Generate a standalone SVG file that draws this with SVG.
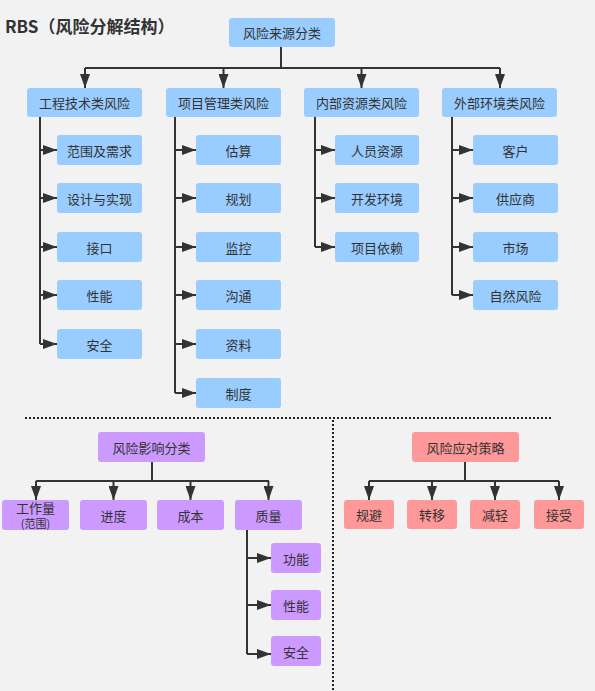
<svg xmlns="http://www.w3.org/2000/svg" width="595" height="691" viewBox="0 0 595 691">
<defs>
<style>
text{font-family:"Noto Sans CJK SC","Noto Sans",sans-serif;font-size:13px;fill:#333;text-anchor:middle;dominant-baseline:central}
.title{font-size:17px;font-weight:bold;text-anchor:start;dominant-baseline:auto}
.b{fill:#99CCFF}
.p{fill:#CC99FF}
.r{fill:#FF9999}
.ln{fill:none;stroke:#333;stroke-width:2}
.arr{fill:none;stroke:#333;stroke-width:2;marker-end:url(#ah)}
.dot{fill:none;stroke:#222;stroke-width:2;stroke-dasharray:2 2}
</style>
<marker id="ah" markerUnits="userSpaceOnUse" markerWidth="14" markerHeight="10" refX="14" refY="5" orient="auto">
<path d="M0,0 L14,5 L0,10 z" fill="#333"/>
</marker>
</defs>
<rect width="595" height="691" fill="#F2F2F3"/>
<text class="title" x="5" y="33">RBS（风险分解结构）</text>

<g id="connectors">
<path class="ln" d="M281,47 V68 M85,68 H500"/>
<path class="arr" d="M85,68 V88"/>
<path class="arr" d="M223.5,68 V88"/>
<path class="arr" d="M361.5,68 V88"/>
<path class="arr" d="M500,68 V88"/>
<path class="ln" d="M40,117 V344"/>
<path class="arr" d="M40,150 H57"/>
<path class="arr" d="M40,198 H57"/>
<path class="arr" d="M40,247 H57"/>
<path class="arr" d="M40,295 H57"/>
<path class="arr" d="M40,344 H57"/>
<path class="ln" d="M175,117 V393"/>
<path class="arr" d="M175,150 H196"/>
<path class="arr" d="M175,198 H196"/>
<path class="arr" d="M175,247 H196"/>
<path class="arr" d="M175,295 H196"/>
<path class="arr" d="M175,344 H196"/>
<path class="arr" d="M175,393 H196"/>
<path class="ln" d="M315,117 V247"/>
<path class="arr" d="M315,150 H335"/>
<path class="arr" d="M315,198 H335"/>
<path class="arr" d="M315,247 H335"/>
<path class="ln" d="M452,117 V295"/>
<path class="arr" d="M452,150 H473"/>
<path class="arr" d="M452,198 H473"/>
<path class="arr" d="M452,247 H473"/>
<path class="arr" d="M452,295 H473"/>
<path class="ln" d="M152,462 V481 M36,481 H269"/>
<path class="arr" d="M36,481 V500"/>
<path class="arr" d="M113.5,481 V500"/>
<path class="arr" d="M190.5,481 V500"/>
<path class="arr" d="M268.5,481 V500"/>
<path class="ln" d="M247,530 V654"/>
<path class="arr" d="M247,558 H271"/>
<path class="arr" d="M247,605 H271"/>
<path class="arr" d="M247,654 H271"/>
<path class="ln" d="M465,462 V481 M369,481 H559"/>
<path class="arr" d="M369,481 V500"/>
<path class="arr" d="M432,481 V500"/>
<path class="arr" d="M495,481 V500"/>
<path class="arr" d="M559,481 V500"/>
<path class="dot" d="M25,418 H553 M333,420 V691"/>
</g>

<g id="n-root"><rect class="b" x="229" y="18" width="106" height="29" rx="3"/><text x="282" y="32.5">风险来源分类</text></g>
<g id="n-gc"><rect class="b" x="27" y="88" width="115" height="29" rx="3"/><text x="84.5" y="102.5">工程技术类风险</text></g>
<g id="n-xm"><rect class="b" x="166" y="88" width="115" height="29" rx="3"/><text x="223.5" y="102.5">项目管理类风险</text></g>
<g id="n-nb"><rect class="b" x="304" y="88" width="115" height="29" rx="3"/><text x="361.5" y="102.5">内部资源类风险</text></g>
<g id="n-wb"><rect class="b" x="442" y="88" width="115" height="29" rx="3"/><text x="499.5" y="102.5">外部环境类风险</text></g>

<g id="n-gc1"><rect class="b" x="57" y="135" width="85" height="30" rx="3"/><text x="99.5" y="150">范围及需求</text></g>
<g id="n-gc2"><rect class="b" x="57" y="183" width="85" height="30" rx="3"/><text x="99.5" y="198">设计与实现</text></g>
<g id="n-gc3"><rect class="b" x="57" y="232" width="85" height="30" rx="3"/><text x="99.5" y="247">接口</text></g>
<g id="n-gc4"><rect class="b" x="57" y="280" width="85" height="30" rx="3"/><text x="99.5" y="295">性能</text></g>
<g id="n-gc5"><rect class="b" x="57" y="329" width="85" height="30" rx="3"/><text x="99.5" y="344">安全</text></g>

<g id="n-xm1"><rect class="b" x="196" y="135" width="85" height="30" rx="3"/><text x="238.5" y="150">估算</text></g>
<g id="n-xm2"><rect class="b" x="196" y="183" width="85" height="30" rx="3"/><text x="238.5" y="198">规划</text></g>
<g id="n-xm3"><rect class="b" x="196" y="232" width="85" height="30" rx="3"/><text x="238.5" y="247">监控</text></g>
<g id="n-xm4"><rect class="b" x="196" y="280" width="85" height="30" rx="3"/><text x="238.5" y="295">沟通</text></g>
<g id="n-xm5"><rect class="b" x="196" y="329" width="85" height="30" rx="3"/><text x="238.5" y="344">资料</text></g>
<g id="n-xm6"><rect class="b" x="196" y="378" width="85" height="30" rx="3"/><text x="238.5" y="393">制度</text></g>

<g id="n-nb1"><rect class="b" x="335" y="135" width="84" height="30" rx="3"/><text x="377" y="150">人员资源</text></g>
<g id="n-nb2"><rect class="b" x="335" y="183" width="84" height="30" rx="3"/><text x="377" y="198">开发环境</text></g>
<g id="n-nb3"><rect class="b" x="335" y="232" width="84" height="30" rx="3"/><text x="377" y="247">项目依赖</text></g>

<g id="n-wb1"><rect class="b" x="473" y="135" width="85" height="30" rx="3"/><text x="515.5" y="150">客户</text></g>
<g id="n-wb2"><rect class="b" x="473" y="183" width="85" height="30" rx="3"/><text x="515.5" y="198">供应商</text></g>
<g id="n-wb3"><rect class="b" x="473" y="232" width="85" height="30" rx="3"/><text x="515.5" y="247">市场</text></g>
<g id="n-wb4"><rect class="b" x="473" y="280" width="85" height="30" rx="3"/><text x="515.5" y="295">自然风险</text></g>

<g id="n-impact"><rect class="p" x="98" y="432" width="107" height="30" rx="3"/><text x="151.5" y="447">风险影响分类</text></g>
<g id="n-i1"><rect class="p" x="2" y="500" width="67" height="30" rx="3"/><text x="35.5" y="507">工作量</text><text x="35.5" y="523" style="font-size:11px">(范围)</text></g>
<g id="n-i2"><rect class="p" x="80" y="500" width="67" height="30" rx="3"/><text x="113.5" y="515">进度</text></g>
<g id="n-i3"><rect class="p" x="157" y="500" width="67" height="30" rx="3"/><text x="190.5" y="515">成本</text></g>
<g id="n-i4"><rect class="p" x="235" y="500" width="67" height="30" rx="3"/><text x="268.5" y="515">质量</text></g>
<g id="n-q1"><rect class="p" x="271" y="543" width="50" height="30" rx="3"/><text x="296" y="558">功能</text></g>
<g id="n-q2"><rect class="p" x="271" y="590" width="50" height="30" rx="3"/><text x="296" y="605">性能</text></g>
<g id="n-q3"><rect class="p" x="271" y="636" width="50" height="30" rx="3"/><text x="296" y="651">安全</text></g>

<g id="n-resp"><rect class="r" x="412" y="432" width="107" height="30" rx="3"/><text x="465.5" y="447">风险应对策略</text></g>
<g id="n-r1"><rect class="r" x="344" y="500" width="50" height="29" rx="3"/><text x="369" y="514.5">规避</text></g>
<g id="n-r2"><rect class="r" x="407" y="500" width="50" height="29" rx="3"/><text x="432" y="514.5">转移</text></g>
<g id="n-r3"><rect class="r" x="470" y="500" width="50" height="29" rx="3"/><text x="495" y="514.5">减轻</text></g>
<g id="n-r4"><rect class="r" x="534" y="500" width="50" height="29" rx="3"/><text x="559" y="514.5">接受</text></g>
</svg>
